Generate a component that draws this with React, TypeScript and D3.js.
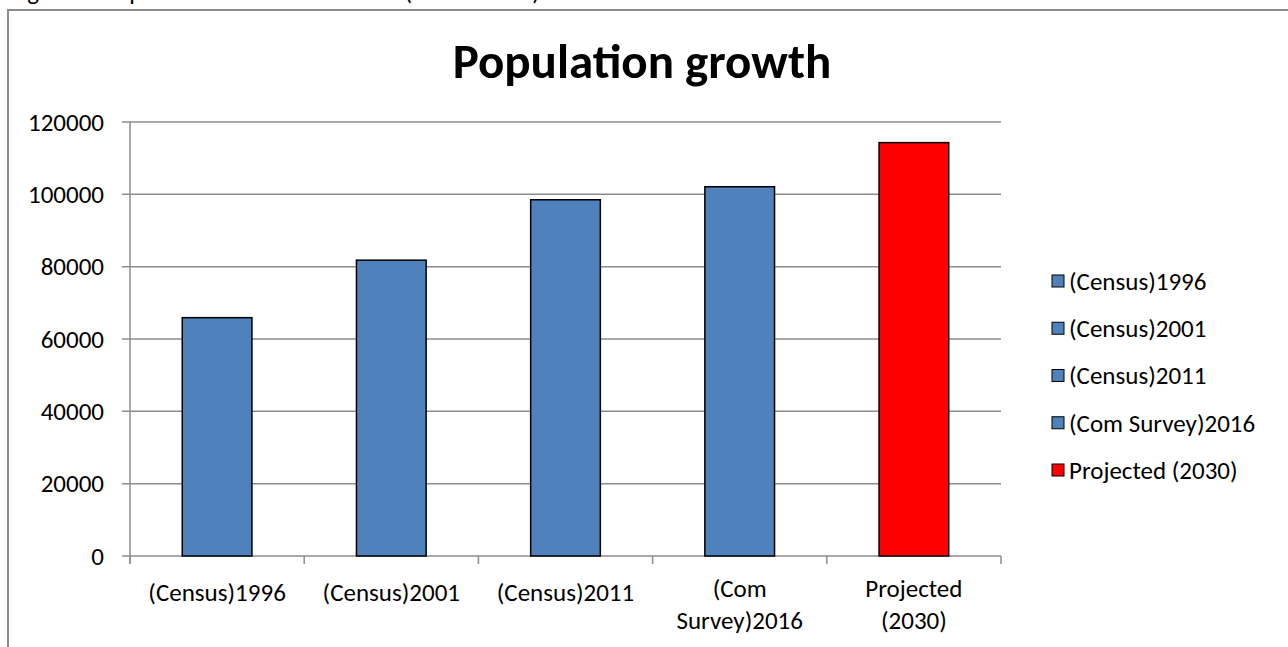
import React from "react";
import * as d3 from "d3";

// Population counts per survey / projection
const categories = ["(Census)1996", "(Census)2001", "(Census)2011", "(Com Survey)2016", "Projected (2030)"];
const axisLabels = [["(Census)1996"], ["(Census)2001"], ["(Census)2011"], ["(Com", "Survey)2016"], ["Projected", "(2030)"]];
const population = [65900, 81800, 98500, 102100, 114300];
const barColors = ["#4F81BD", "#4F81BD", "#4F81BD", "#4F81BD", "#FF0000"];
const yTicks = [0, 20000, 40000, 60000, 80000, 100000, 120000];

const W = 1288;
const H = 647;
const FONT = "Carlito, Calibri, Lato, 'Open Sans', sans-serif";

export default function App() {
  const plot = { left: 130, right: 1001, top: 122, bottom: 556 };
  const x = d3
    .scaleBand<string>()
    .domain(categories)
    .range([plot.left, plot.right])
    .paddingInner(0.6)
    .paddingOuter(0.3);
  const y = d3.scaleLinear().domain([0, 120000]).range([plot.bottom, plot.top]);
  const step = x.step();
  const boundaries = d3.range(categories.length + 1).map((i) => plot.left + i * step);

  const legendY = d3.scaleLinear().domain([0, 4]).range([281, 470]);

  return (
    <svg
      width={W}
      height={H}
      style={{ position: "absolute", left: 0, top: 0, background: "#fff" }}
      fontFamily={FONT}
    >
      {/* caption of the preceding figure, mostly above the page edge */}
      <text x={10} y={0} fontSize={25} fill="#000">
        Figure 3: Population Growth Estimates (1996 - 2030)
      </text>

      {/* chart frame */}
      <rect x={8} y={10} width={W + 10} height={H + 10} fill="#fff" stroke="#8c8c8c" strokeWidth={2} />

      <text x={642} y={78} textAnchor="middle" fontSize={49} fontWeight="bold" fill="#000">
        Population growth
      </text>

      {/* gridlines and y ticks */}
      {yTicks.map((t) => (
        <g key={t}>
          <line x1={plot.left - 8} x2={plot.right} y1={y(t)} y2={y(t)} stroke="#8c8c8c" strokeWidth={1.5} />
          <text x={104} y={y(t)} dy="0.35em" textAnchor="end" fontSize={25} fill="#000">
            {t}
          </text>
        </g>
      ))}
      <line x1={plot.left} x2={plot.left} y1={plot.top} y2={plot.bottom + 8} stroke="#8c8c8c" strokeWidth={1.5} />

      {/* category boundary ticks */}
      {boundaries.map((bx, i) => (
        <line key={i} x1={bx} x2={bx} y1={plot.bottom} y2={plot.bottom + 8} stroke="#8c8c8c" strokeWidth={1.5} />
      ))}

      {/* bars */}
      {categories.map((c, i) => (
        <rect
          key={c}
          x={x(c)}
          y={y(population[i])}
          width={x.bandwidth()}
          height={y(0) - y(population[i])}
          fill={barColors[i]}
          stroke="#000"
          strokeWidth={1.5}
        />
      ))}

      {/* category labels */}
      {categories.map((c, i) => {
        const cx = (x(c) as number) + x.bandwidth() / 2;
        const lines = axisLabels[i];
        const baseY = lines.length === 1 ? 601 : 597;
        return (
          <text key={c} textAnchor="middle" fontSize={25} fill="#000">
            {lines.map((l, j) => (
              <tspan key={j} x={cx} y={baseY + j * 32}>
                {l}
              </tspan>
            ))}
          </text>
        );
      })}

      {/* legend */}
      {categories.map((c, i) => (
        <g key={c} transform={`translate(1052, ${legendY(i)})`}>
          <rect x={0} y={-6} width={12} height={12} fill={barColors[i]} stroke="#000" strokeWidth={1} />
          <text x={17} y={0} dy="0.35em" fontSize={25} fill="#000">
            {c}
          </text>
        </g>
      ))}
    </svg>
  );
}
